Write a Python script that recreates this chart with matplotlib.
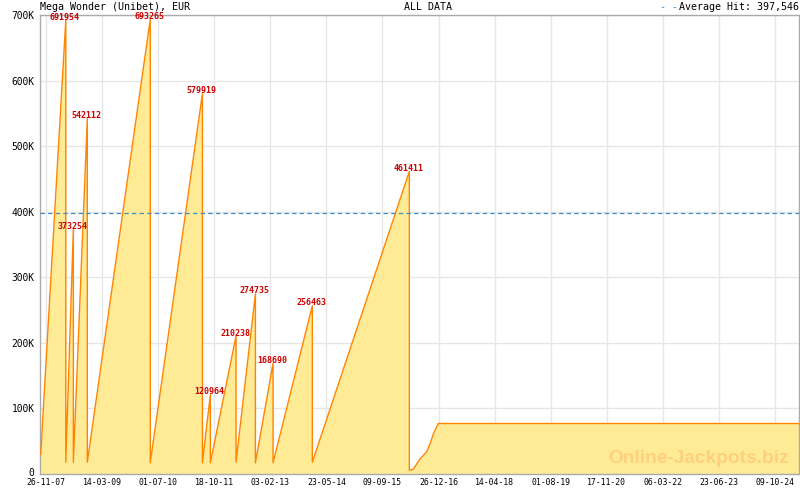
import matplotlib
matplotlib.use('Agg')
import matplotlib.pyplot as plt
import matplotlib.transforms as mtransforms
import pandas as pd

# ---------------- data ----------------
start_date = '2007-10-12'
start_value = 30000
hit_dates = ['2008-05-11', '2008-07-14', '2008-11-09', '2010-04-25', '2011-07-10',
             '2011-09-15', '2012-04-19', '2012-09-30', '2013-02-26', '2014-01-24',
             '2016-04-23']
hit_values = [691954, 373254, 542112, 693265, 579919, 120964, 210238, 274735,
              168690, 256463, 461411]
reset_values = [18000, 18000, 18000, 17000, 17000, 17000, 18000, 17000, 17000,
                18000, 6000]
tail_dates = ['2016-05-25', '2016-07-23', '2016-09-17', '2016-10-15', '2016-11-12',
              '2016-12-24', '2025-04-30']
tail_values = [7000, 23000, 34000, 46000, 61000, 77000, 77000]

x_tick_labels = ['26-11-07', '14-03-09', '01-07-10', '18-10-11', '03-02-13',
                 '23-05-14', '09-09-15', '26-12-16', '14-04-18', '01-08-19',
                 '17-11-20', '06-03-22', '23-06-23', '09-10-24']
y_tick_values = [0, 100000, 200000, 300000, 400000, 500000, 600000, 700000]
y_tick_labels = ['0', '100K', '200K', '300K', '400K', '500K', '600K', '700K']

title_left = 'Mega Wonder (Unibet), EUR'
title_center = 'ALL DATA'

# ---------------- build series ----------------
dates = [pd.Timestamp(start_date)]
vals = [start_value]
for d, h, r in zip(hit_dates, hit_values, reset_values):
    dates += [pd.Timestamp(d), pd.Timestamp(d)]
    vals += [h, r]
for d, v in zip(tail_dates, tail_values):
    dates.append(pd.Timestamp(d))
    vals.append(v)

avg_hit = sum(hit_values) / len(hit_values)

# ---------------- figure ----------------
W, H = 800, 490
fig = plt.figure(figsize=(W / 100, H / 100), dpi=100)
fig.patch.set_facecolor('white')
ax = fig.add_axes([40 / W, 16 / H, 759 / W, 459 / H])

mono = 'DejaVu Sans Mono'
fill_col = '#ffeb96'
line_col = '#ff8400'

ax.fill_between(dates, vals, 0, color=fill_col, lw=0, zorder=2)
ax.plot(dates, vals, color=line_col, lw=1.0, zorder=3)

ax.axhline(avg_hit, color='#3d8fc6', lw=0.9, dashes=(3.5, 2.6), zorder=4)

# peak labels
for d, h in zip(hit_dates, hit_values):
    ax.annotate(str(h), xy=(pd.Timestamp(d), h), xytext=(-1, 0.5),
                textcoords='offset pixels', ha='center', va='baseline',
                fontsize=6, family=mono, fontweight='bold', color='#cc0000',
                zorder=6, annotation_clip=False)

# x ticks
major = list(pd.to_datetime(x_tick_labels, format='%d-%m-%y'))
ax.set_xticks(major)
ax.set_xticklabels(x_tick_labels, family=mono, fontsize=5.9)
t0 = major[0]
minor = [t0 + pd.Timedelta(days=79 * k) for k in range(-1, 6 * len(major) + 3)]
ax.set_xticks(minor, minor=True)
ax.tick_params(axis='x', which='major', direction='in', length=4, width=1,
               color='#aaaaaa', pad=3)
ax.tick_params(axis='x', which='minor', direction='in', length=3, width=1,
               color='#aaaaaa')

ax.set_yticks(y_tick_values)
ax.set_yticklabels(y_tick_labels, family=mono, fontsize=6.9)
ax.tick_params(axis='y', length=0, pad=4)

ax.set_xlim(pd.Timestamp('2007-10-06'), pd.Timestamp(tail_dates[-1]))
ax.set_ylim(0, 700000)

# lift the "0" label slightly, as in the reference
zero_lbl = ax.get_yticklabels()[0]
zero_lbl.set_transform(zero_lbl.get_transform() +
                       mtransforms.ScaledTranslation(0, 2.5 / 100, fig.dpi_scale_trans))

ax.grid(True, which='major', color='#e6e6e6', lw=1)
ax.set_axisbelow(True)
for s in ax.spines.values():
    s.set_color('#aaaaaa')
    s.set_linewidth(1)

# header
ty = 1 - 7.5 / H
fig.text(40.5 / W, ty, title_left, family=mono, fontsize=7.2, ha='left', va='center')
fig.text(428 / W, ty, title_center, family=mono, fontsize=7.2, ha='center', va='center')
fig.text(799 / W, ty, 'Average Hit: {:,.0f}'.format(avg_hit), family=mono,
         fontsize=7.2, ha='right', va='center')
fig.text(678 / W, ty, '- -', family=mono, fontsize=7.2, ha='right', va='center',
         color='#3d8fc6')

# watermark
fig.text(698.5 / W, 32 / H, 'Online-Jackpots.biz', family='Liberation Sans',
         fontweight='bold', fontsize=13.8, color='#ffd07c', ha='center',
         va='center', zorder=10)

fig.savefig('out.png', dpi=100)
